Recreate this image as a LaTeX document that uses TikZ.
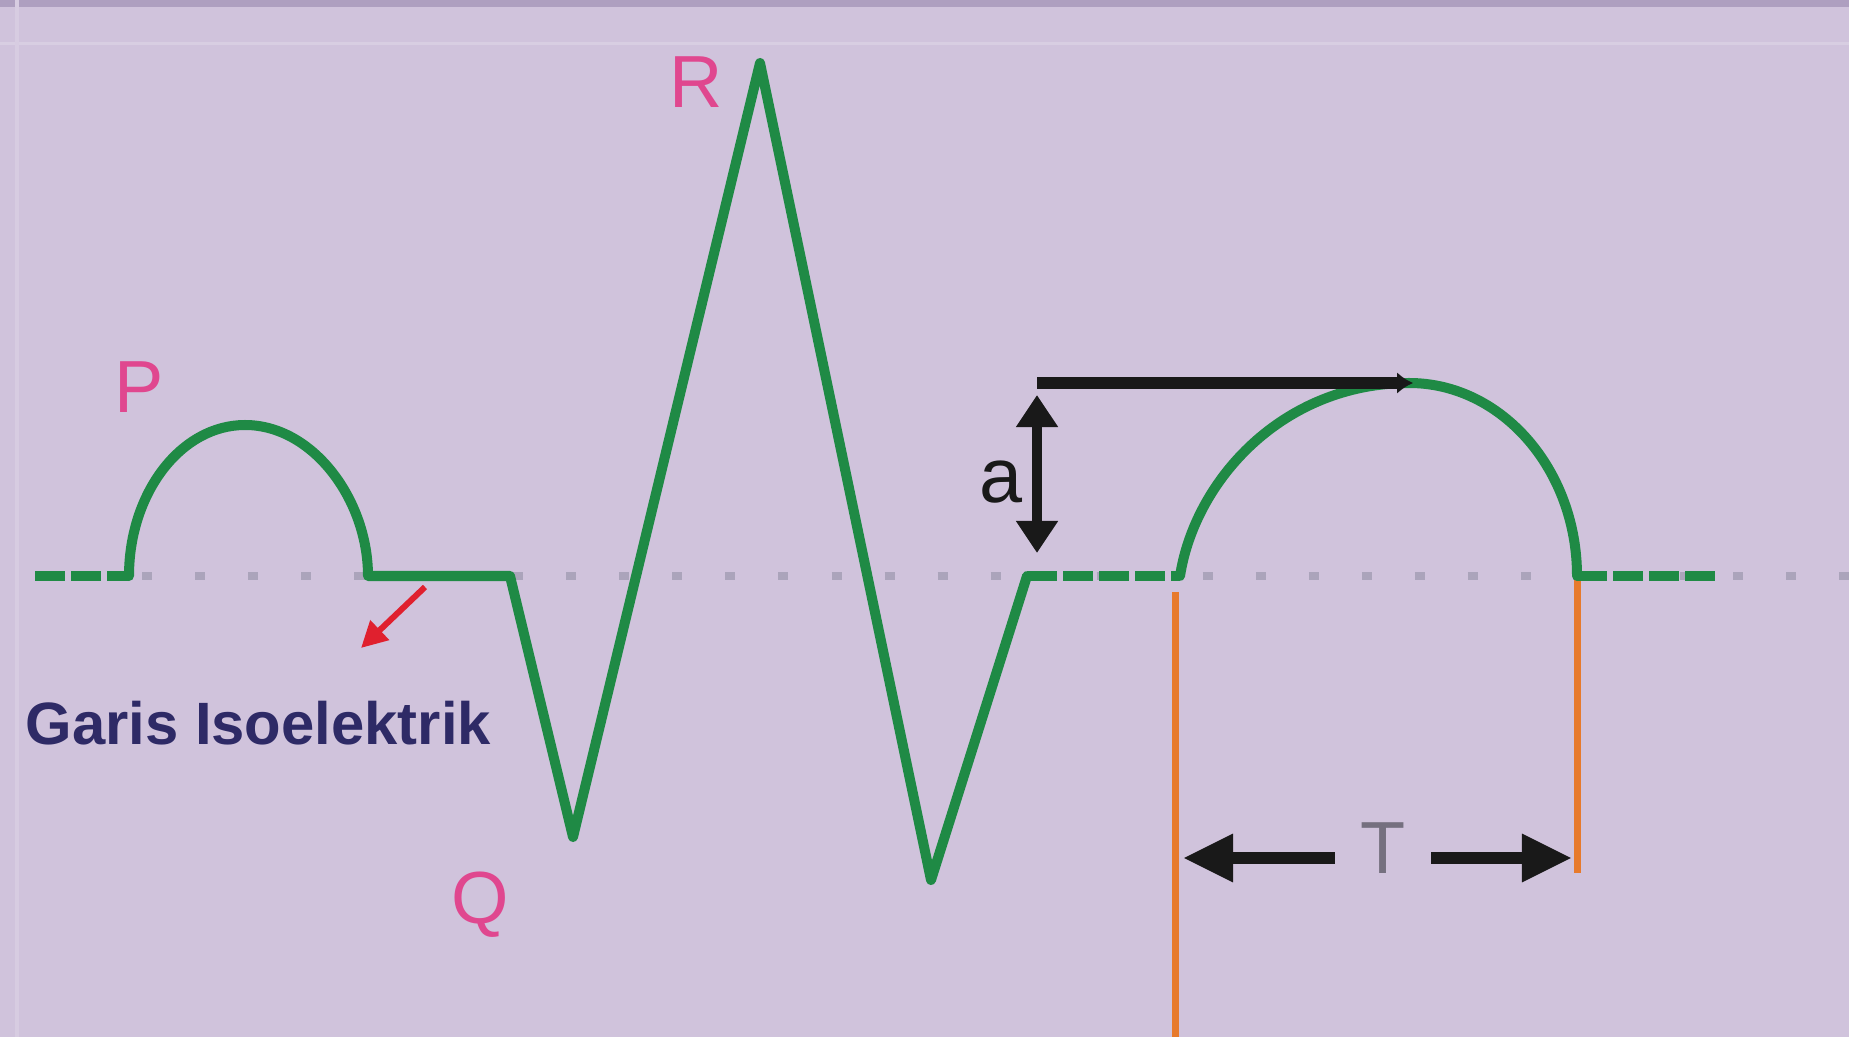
\documentclass[tikz,border=0pt]{standalone}
\usepackage{fontspec}
\setmainfont{Liberation Sans}
\usepackage{xcolor}
\usepackage{tikz}
\usetikzlibrary{arrows.meta}
\definecolor{bgpurple}{HTML}{D0C3DC}
\definecolor{framepurple}{HTML}{AE9FC0}
\definecolor{ecggreen}{HTML}{1F8A45}
\definecolor{isogray}{HTML}{ABA4BB}
\definecolor{wavepink}{HTML}{E0478F}
\definecolor{labelnavy}{HTML}{2E2A66}
\definecolor{markorange}{HTML}{E77A2C}
\definecolor{arrowred}{HTML}{E0202E}
\definecolor{tgray}{HTML}{75707F}

\begin{document}
\begin{tikzpicture}[x=0.01cm,y=-0.01cm,inner sep=0pt]
        \tikzstyle{wave}=[draw=ecggreen,line width=0.1cm,line join=round,line cap=round]
        \tikzstyle{flat}=[draw=ecggreen,line width=0.1cm,dash pattern=on 0.3cm off 0.06cm]
        \tikzstyle{isoline}=[draw=isogray,line width=0.08cm,dash pattern=on 0.1cm off 0.43cm]
        \tikzstyle{wavelbl}=[text=wavepink,font=\fontsize{21}{24}\selectfont]
        \tikzstyle{dimline}=[draw=black!90,line width=0.12cm]
        \tikzstyle{guide}=[draw=markorange,line width=0.07cm]
        \useasboundingbox (0,0) rectangle (1849,1037);
        \fill[bgpurple] (0,0) rectangle (1849,1037);
        \fill[framepurple] (0,0) rectangle (1849,7);
        \draw[white!18!bgpurple,line width=0.03cm] (0,44) -- (1849,44);
        \draw[white!15!bgpurple,line width=0.03cm] (17,0) -- (17,1037);
        % key points of the trace
        \coordinate (s0)   at (35,576);
        \coordinate (p0)   at (129,576);
        \coordinate (ptop) at (245,425);
        \coordinate (p1)   at (368,576);
        \coordinate (q0)   at (510,576);
        \coordinate (q)    at (573,837);
        \coordinate (r)    at (760,63);
        \coordinate (s)    at (931,880);
        \coordinate (j)    at (1027,576);
        \coordinate (t0)   at (1180,576);
        \coordinate (ttop) at (1409,383);
        \coordinate (t1)   at (1577,576);
        \coordinate (e0)   at (1720,576);
        % isoelectric line
        \draw[isoline] (-17,576) -- (1849,576);
        % T interval guides
        \coordinate (gl0) at (1175,592);
        \coordinate (gl1) at (1175,1040);
        \coordinate (gr1) at (1577,873);
        \draw[guide] (gl0) -- (gl1);
        \draw[guide] (t1) -- (gr1);
        % ECG trace
        \draw[flat] (s0) -- (p0);
        \draw[wave] (p0) .. controls (129,493) and (181,425) .. (ptop)
                         .. controls (313,425) and (368,500) .. (p1)
                         -- (q0) -- (q) -- (r) -- (s) -- (j);
        \draw[flat] (j) -- (t0);
        \draw[wave] (t0) .. controls (1195,480) and (1283,383) .. (ttop)
                         .. controls (1502,383) and (1577,470) .. (t1);
        \draw[flat] (t1) -- (e0);
        % labels
        \node[wavelbl] (plbl) at (139,387) {P};
        \node[wavelbl] (rlbl) at (696,82)  {R};
        \node[wavelbl] (qlbl) at (480,905) {Q};
        \node[text=black!90,font=\fontsize{22}{24}\selectfont] (albl) at (1001,482) {a};
        \node[text=tgray,font=\fontsize{21}{24}\selectfont,inner xsep=0.25cm] (tlbl) at (1383,848) {T};
        \node[anchor=west,text=labelnavy,font=\bfseries\fontsize{17}{20}\selectfont] (iso) at (25,723) {Garis Isoelektrik};
        % amplitude a
        \coordinate (atop) at (1037,383);
        \coordinate (ahi)  at (1037,395);
        \coordinate (alo)  at (1037,553);
        \coordinate (tpk)  at (1413,383);
        \draw[dimline,-{Latex[length=0.16cm,width=0.22cm]}] (atop) -- (tpk);
        \draw[dimline,line width=0.1cm,{Triangle[length=0.32cm,width=0.4cm]}-{Triangle[length=0.32cm,width=0.4cm]}] (ahi) -- (alo);
        % duration T
        \coordinate (tl) at (1183,858);
        \coordinate (tr) at (1572,858);
        \draw[dimline,-{Triangle[length=0.5cm,width=0.45cm]}] (tlbl.west |- tl) -- (tl);
        \draw[dimline,-{Triangle[length=0.5cm,width=0.45cm]}] (tlbl.east |- tr) -- (tr);
        % pointer to isoelectric line
        \coordinate (rd0) at (425,587);
        \coordinate (rd1) at (361,648);
        \draw[arrowred,line width=0.06cm,-{Triangle[length=0.26cm,width=0.26cm]}] (rd0) -- (rd1);
      \end{tikzpicture}
\end{document}
